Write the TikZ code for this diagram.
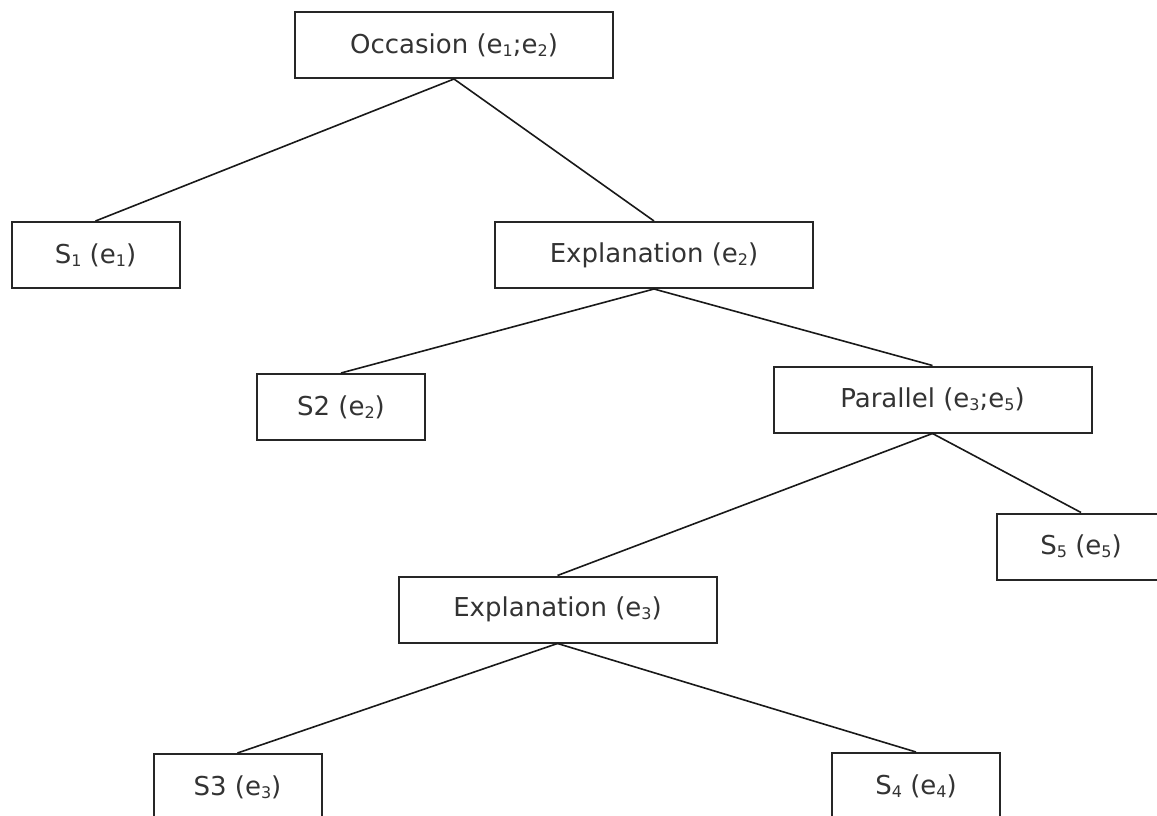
\documentclass[tikz,border=0pt]{standalone}
\usepackage{fontspec}
\setmainfont{DejaVu Sans}
% small index digits sitting close to the baseline
\newcommand\ix[1]{\raisebox{-0.12em}{\fontsize{16}{16}\selectfont #1}}
\begin{document}
\begin{tikzpicture}[x=1pt,y=-1pt,
  box/.style={draw=black!85, line width=2pt, fill=white, rectangle,
    inner sep=0pt, text=black!80, font=\fontsize{26}{30}\selectfont},
  wide/.style={box, minimum width=318pt, minimum height=66pt},
  leaf/.style={box, minimum width=168pt, minimum height=66pt},
  link/.style={draw=black!90, line width=1.6pt}]
\clip (0,0) rectangle (1157,816);
\fill[white] (0,0) rectangle (1157,816);

\node[wide] (occ)  at (454,45)    {Occasion (e\ix{1};e\ix{2})};
\node[leaf] (s1)   at (95.5,255)  {S\ix{1} (e\ix{1})};
\node[wide] (exp2) at (654,255)   {Explanation (e\ix{2})};
\node[leaf] (s2)   at (341,407)   {S2 (e\ix{2})};
\node[wide] (par)  at (932.5,399.5) {Parallel (e\ix{3};e\ix{5})};
\node[leaf] (s5)   at (1081,546.5) {S\ix{5} (e\ix{5})};
\node[wide] (exp3) at (557.5,609.5) {Explanation (e\ix{3})};
\node[leaf] (s3)   at (237.5,787) {S3 (e\ix{3})};
\node[leaf] (s4)   at (916,786)   {S\ix{4} (e\ix{4})};

\draw[link] (occ.south) -- (s1.north);
\draw[link] (occ.south) -- (exp2.north);
\draw[link] (exp2.south) -- (s2.north);
\draw[link] (exp2.south) -- (par.north);
\draw[link] (par.south) -- (exp3.north);
\draw[link] (par.south) -- (s5.north);
\draw[link] (exp3.south) -- (s3.north);
\draw[link] (exp3.south) -- (s4.north);
\end{tikzpicture}
\end{document}
